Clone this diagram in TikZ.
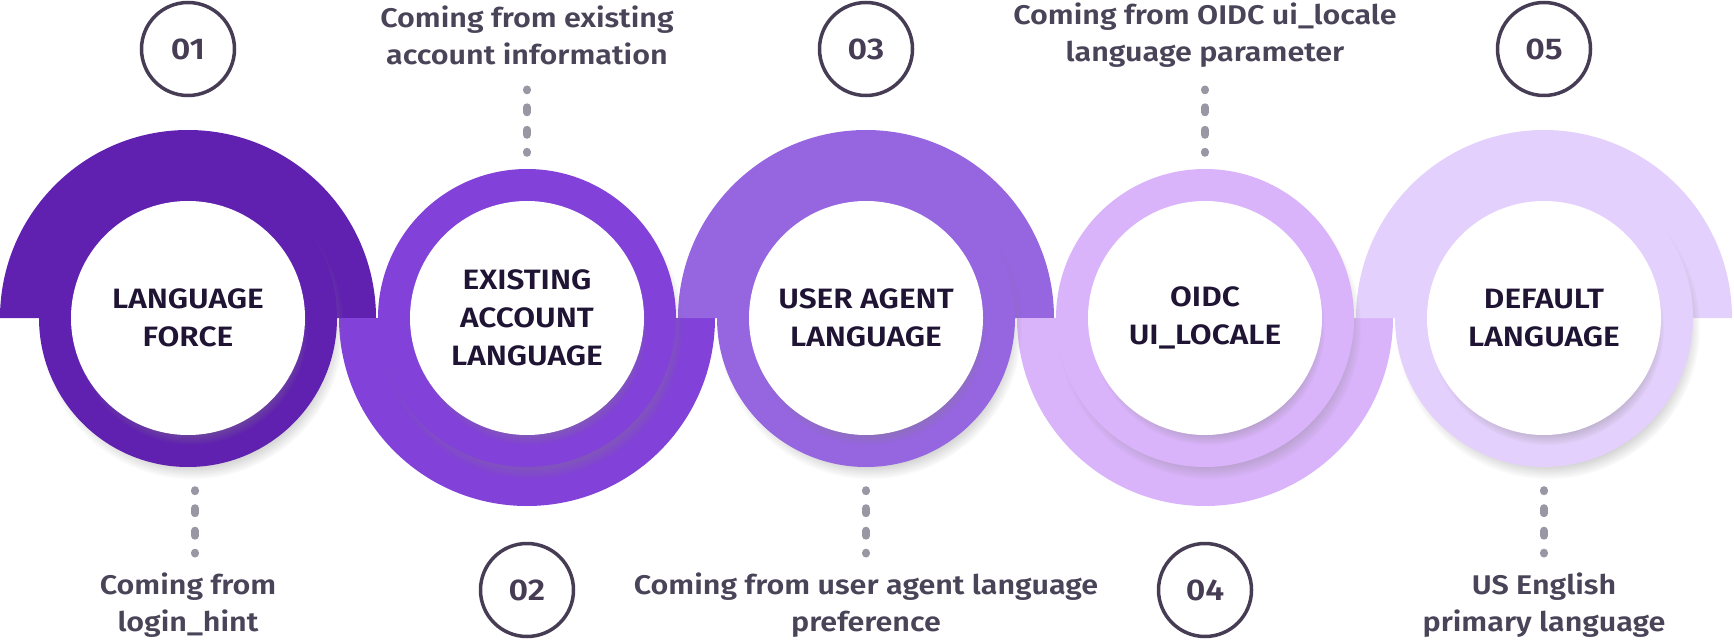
\documentclass[tikz,border=0pt]{standalone}
\usepackage{fontspec}
\setmainfont{Fira Sans}[BoldFont={Fira Sans SemiBold}, BoldFeatures={FakeStretch=1.13}]
\usepackage{tikz}
\usetikzlibrary{shadows,positioning,calc}
\definecolor{stepA}{HTML}{6021B0}
\definecolor{stepB}{HTML}{8241D8}
\definecolor{stepC}{HTML}{9665E0}
\definecolor{stepD}{HTML}{DAB4FB}
\definecolor{stepE}{HTML}{E4D0FC}
\definecolor{titletext}{HTML}{1F1433}
\definecolor{notetext}{HTML}{4A4458}
\definecolor{dotgray}{HTML}{9A97A4}
\definecolor{numline}{HTML}{463D55}
\tikzset{
  ring/.style={circle, inner sep=0pt, minimum size=298pt, fill=#1,
    circular drop shadow={shadow xshift=4pt, shadow yshift=-9pt, shadow scale=1.02, opacity=.55}},
  core/.style={circle, inner sep=0pt, minimum size=234pt, fill=white, align=center,
    text=titletext, font=\bfseries\fontsize{28}{38}\selectfont,
    circular drop shadow={shadow xshift=3pt, shadow yshift=-10pt, shadow scale=1, opacity=.55}},
  num/.style={circle, draw=numline, line width=3.5pt, minimum size=93pt, inner sep=0pt,
    text=numline, font=\bfseries\fontsize{30}{30}\selectfont},
  note/.style={align=center, inner sep=0pt, text=notetext,
    font=\bfseries\fontsize{27}{37}\selectfont},
  dots/.style={draw=dotgray, line width=8pt, line cap=round,
    dash pattern=on 1pt off 17pt on 5pt off 17.5pt on 5pt off 17pt on 1pt off 60pt}
}
\begin{document}
\begin{tikzpicture}[x=1pt,y=1pt]
\useasboundingbox (0,0) rectangle (1734,641);
\fill[stepA] (0,323) arc[start angle=180, end angle=0, radius=188] -- cycle;
\fill[stepB] (339,323) arc[start angle=180, end angle=360, radius=188] -- cycle;
\fill[stepC] (678,323) arc[start angle=180, end angle=0, radius=188] -- cycle;
\fill[stepD] (1017,323) arc[start angle=180, end angle=360, radius=188] -- cycle;
\fill[stepE] (1356,323) arc[start angle=180, end angle=0, radius=188] -- cycle;
\node[ring=stepA] (r1) at (188,323) {};
\node[ring=stepB] (r2) at (527,323) {};
\node[ring=stepC] (r3) at (866,323) {};
\node[ring=stepD] (r4) at (1205,323) {};
\node[ring=stepE] (r5) at (1544,323) {};
\node[core] (s1) at (r1) {LANGUAGE\\FORCE};
\node[core] (s2) at (r2) {EXISTING\\ACCOUNT\\LANGUAGE};
\node[core] (s3) at (r3) {USER AGENT\\LANGUAGE};
\node[core] (s4) at (r4) {OIDC\\UI\_LOCALE};
\node[core] (s5) at (r5) {DEFAULT\\LANGUAGE};
\node[num] (n1) at (188,592) {01};
\node[num] (n2) at (527,51) {02};
\node[num] (n3) at (866,592) {03};
\node[num] (n4) at (1205,51) {04};
\node[num] (n5) at (1544,592) {05};
\node[note] (l1) at (188,36) {Coming from\\login\_hint};
\node[note] (l2) at (527,606) {Coming from existing\\account information};
\node[note] (l3) at (866,36) {Coming from user agent language\\preference};
\node[note] (l4) at (1205,606) {Coming from OIDC ui\_locale\\language parameter};
\node[note] (l5) at (1544,36) {US English\\primary language};
\coordinate (t1) at (195,87.5);
\coordinate (t2) at (527,551.5);
\coordinate (t3) at (866,87.5);
\coordinate (t4) at (1205,551.5);
\coordinate (t5) at (1544,87.5);
\draw[dots] ([xshift=7pt,yshift=-23pt]r1.south) -- (t1);
\draw[dots] ([yshift=16pt]r2.north) -- (t2);
\draw[dots] ([yshift=-23pt]r3.south) -- (t3);
\draw[dots] ([yshift=16pt]r4.north) -- (t4);
\draw[dots] ([yshift=-23pt]r5.south) -- (t5);
\end{tikzpicture}
\end{document}
